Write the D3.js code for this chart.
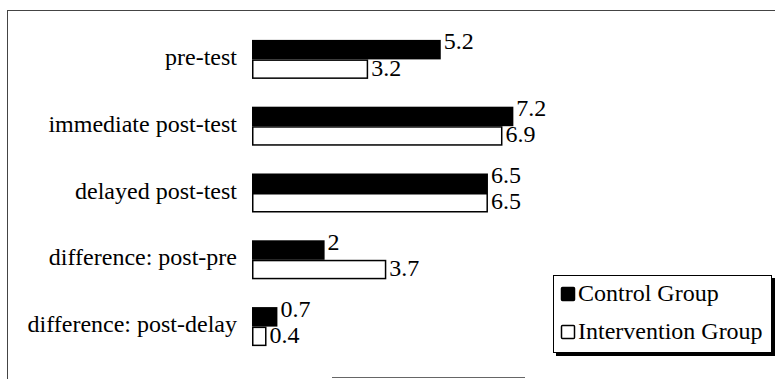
<!DOCTYPE html>
<html><head><meta charset="utf-8">
<script src="https://cdn.jsdelivr.net/npm/d3@7/dist/d3.min.js"></script>
<style>body{margin:0;background:#fff}svg{display:block}</style>
</head><body><svg id="c" width="780" height="379"></svg>
<script>
const categories = ["pre-test","immediate post-test","delayed post-test","difference: post-pre","difference: post-delay"];
const seriesNames = ["Control Group","Intervention Group"];
const controlValues = [5.2,7.2,6.5,2,0.7];
const interventionValues = [3.2,6.9,6.5,3.7,0.4];
const controlLabels = ["5.2","7.2","6.5","2","0.7"];
const interventionLabels = ["3.2","6.9","6.5","3.7","0.4"];

const svg = d3.select("#c");
const FS = 24;
const x = d3.scaleLinear().domain([0,1]).range([252,288.3]);
const y = d3.scaleBand().domain(categories).range([26,360]).paddingInner(0.416).paddingOuter(0.208);
const ys = d3.scaleBand().domain(seriesNames).range([0,y.bandwidth()]);

function txt(g,xp,yp,s,anchor){
  return g.append("text").attr("x",xp).attr("y",yp+7.5)
    .attr("text-anchor",anchor||"start")
    .style("font-family","'Liberation Serif'")
    .attr("font-size",FS).attr("fill","#000").text(s);
}

// frame
svg.append("line").attr("x1",7).attr("x2",775).attr("y1",10.5).attr("y2",10.5).attr("stroke","#444").attr("stroke-width",1);
svg.append("line").attr("x1",7.5).attr("x2",7.5).attr("y1",10).attr("y2",379).attr("stroke","#444").attr("stroke-width",1);
svg.append("line").attr("x1",332).attr("x2",525).attr("y1",377.5).attr("y2",377.5).attr("stroke","#666").attr("stroke-width",1.2);

const data = categories.map((c,i)=>({c, v:[controlValues[i],interventionValues[i]], l:[controlLabels[i],interventionLabels[i]]}));
const g = svg.append("g");
data.forEach(d=>{
  const y0 = y(d.c);
  g.append("rect").attr("x",x(0)).attr("y",y0+ys(seriesNames[0])).attr("width",x(d.v[0])-x(0)).attr("height",ys.bandwidth()).attr("fill","#000");
  g.append("rect").attr("x",x(0)+0.75).attr("y",y0+ys(seriesNames[1])+0.75).attr("width",x(d.v[1])-x(0)-1.5).attr("height",ys.bandwidth()-1.5).attr("fill","#fff").attr("stroke","#000").attr("stroke-width",1.5);
  txt(g, 237, y0+y.bandwidth()/2-2, d.c, "end");
  txt(g, x(d.v[0])+3, y0+ys(seriesNames[0])+2, d.l[0]);
  txt(g, x(d.v[1])+3, y0+ys(seriesNames[1])+ys.bandwidth()/2-1, d.l[1]);
});

// legend
const lg = svg.append("g");
lg.append("rect").attr("x",556).attr("y",278).attr("width",219).attr("height",78).attr("fill","#000");
lg.append("rect").attr("x",553.5).attr("y",275.5).attr("width",218).attr("height",77).attr("fill","#fff").attr("stroke","#000").attr("stroke-width",1);
seriesNames.forEach((s,i)=>{
  const yy = 294 + i*38;
  lg.append("rect").attr("x",561.5).attr("y",yy-6.5).attr("width",13).attr("height",13)
    .attr("fill",i===0?"#000":"#fff").attr("stroke","#000").attr("stroke-width",1.5).attr("rx",1);
  txt(lg, 578, yy-1, s);
});
</script></body></html>
